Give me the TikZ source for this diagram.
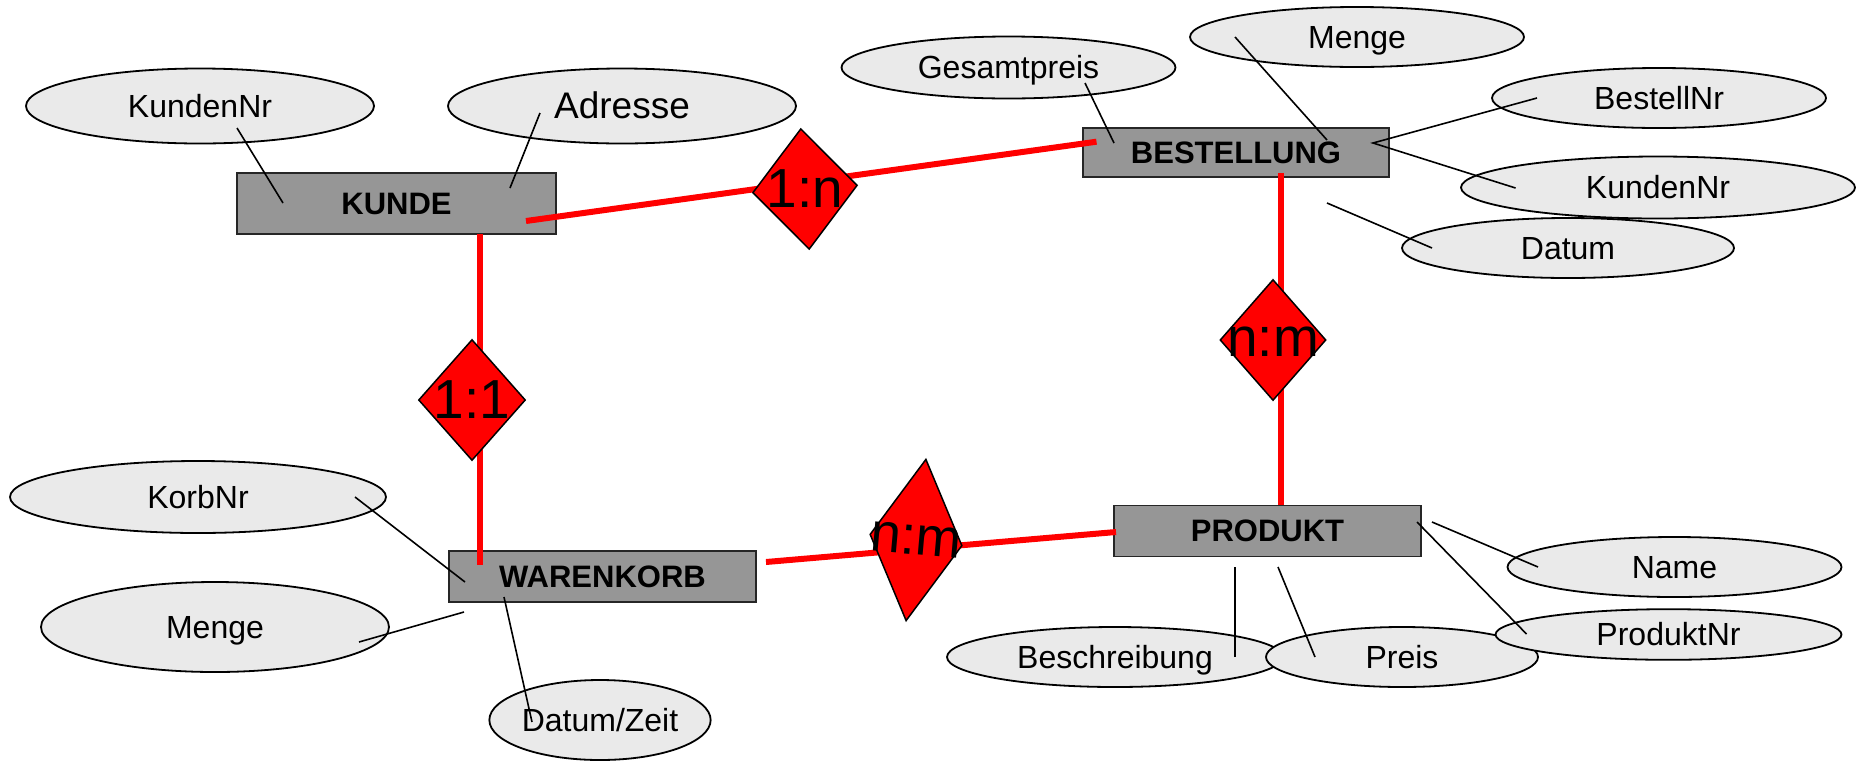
\documentclass[tikz,border=0pt]{standalone}
\usepackage{fontspec}
\setmainfont{Liberation Sans}
\usetikzlibrary{shapes.geometric}
\definecolor{attrfill}{HTML}{EAEAEA}
\definecolor{entfill}{HTML}{969696}
\definecolor{relred}{HTML}{FF0000}
\begin{document}
\begin{tikzpicture}[x=1pt,y=-1pt,
  entity/.style={rectangle, draw=black!85, line width=1.8pt, fill=entfill, inner sep=0pt,
    text height=28pt, text depth=6.6pt, font=\fontsize{31}{36}\selectfont\bfseries},
  attr/.style={ellipse, draw=black, line width=1.8pt, fill=attrfill, inner sep=0pt,
    text height=29pt, text depth=6.8pt, font=\fontsize{32}{38}\selectfont},
  rel/.style={diamond, draw=black, line width=1.5pt, fill=relred, inner sep=0pt},
  rellabel/.style={inner sep=0pt, font=\fontsize{55}{60}\selectfont},
  link/.style={draw=relred, line width=6pt},
  attrline/.style={draw=black, line width=1.6pt}
]
\useasboundingbox (0,0) rectangle (1857,761);

% attributes
\node[attr, minimum width=348pt, minimum height=75pt] (kundennr) at (200,106) {KundenNr};
\node[attr, minimum width=348pt, minimum height=75pt, font=\fontsize{37}{44}\selectfont,
      text height=33.5pt, text depth=7.8pt] (adresse) at (622,106) {Adresse};
\node[attr, minimum width=334pt, minimum height=62pt] (gesamtpreis) at (1008.5,67.5) {Gesamtpreis};
\node[attr, minimum width=334pt, minimum height=60pt] (mengeb) at (1357,37) {Menge};
\node[attr, minimum width=334pt, minimum height=60pt] (bestellnr) at (1659,98) {BestellNr};
\node[attr, minimum width=394pt, minimum height=62pt] (kundennrb) at (1658,187.5) {KundenNr};
\node[attr, minimum width=332pt, minimum height=60pt] (datum) at (1568,248) {Datum};
\node[attr, minimum width=376pt, minimum height=72pt] (korbnr) at (198,497) {KorbNr};
\node[attr, minimum width=348pt, minimum height=90pt] (mengew) at (215,627) {Menge};
\node[attr, minimum width=210pt, minimum height=80pt] (datumzeit) at (600,720) {Datum/Zeit};
\node[attr, minimum width=336pt, minimum height=60pt] (beschreibung) at (1115,657) {Beschreibung};
\node[attr, minimum width=272pt, minimum height=60pt] (preis) at (1402,657) {Preis};
\node[attr, minimum width=346pt, minimum height=44pt] (produktnr) at (1668.5,634.5) {ProduktNr};
\node[attr, minimum width=334pt, minimum height=60pt] (name) at (1674.5,567) {Name};

% entities
\node[entity, minimum width=319pt, minimum height=61pt] (kunde) at (396.5,203.5) {KUNDE};
\node[entity, minimum width=306pt, minimum height=49pt] (bestellung) at (1236,152.5) {BESTELLUNG};
\node[entity, minimum width=307pt, minimum height=51pt] (warenkorb) at (602.5,576.5) {WARENKORB};
\node[entity, minimum width=307pt, minimum height=51pt] (produkt) at (1267.5,531) {PRODUKT};

% ends of the relationship lines
\coordinate (kb1) at (526,221);
\coordinate (kb2) at (1096.5,141.7);
\coordinate (kw1) at (480,234);
\coordinate (kw2) at (480,565);
\coordinate (bp1) at (1281,173);
\coordinate (bp2) at (1281,505);
\coordinate (wp1) at (766,562);
\coordinate (wp2) at (1116,532);

\draw[link] (kb1) -- (kb2);
\draw[link] (kw1) -- (kw2);
\draw[link] (bp1) -- (bp2);
\draw[link] (wp1) -- (wp2);

% relationships
\node[rel, minimum width=105pt, minimum height=121pt, rotate=4] (rkb) at (805,189) {};
\node[rel, minimum width=107pt, minimum height=121pt] (rkw) at (472,400) {};
\node[rel, minimum width=106pt, minimum height=121pt] (rbp) at (1273,340) {};
\node[rel, minimum width=93pt, minimum height=163pt, rotate=-7] (rwp) at (916,540) {};

\node[rellabel] (lkb) at (rkb) {1:n};
\node[rellabel] (lkw) at (rkw) {1:1};
\node[rellabel] (lbp) at ([yshift=-2pt]rbp.center) {n:m};
\node[rellabel, rotate=-5] (lwp) at (rwp) {n:m};

% ends of the attribute lines
\coordinate (a1) at (237,128);    \coordinate (e1) at (283,203);
\coordinate (a2) at (540,113);    \coordinate (e2) at (510,188);
\coordinate (a3) at (1085,83);    \coordinate (e3) at (1114,143);
\coordinate (a4) at (1235,37);    \coordinate (e4) at (1327,140);
\coordinate (a5) at (1537,98);    \coordinate (e5) at (1373,143);
\coordinate (a6) at (1515.5,188);
\coordinate (a7) at (1432,248);   \coordinate (e7) at (1327,203);
\coordinate (a8) at (355,497);    \coordinate (e8) at (465,582);
\coordinate (a9) at (359,642);    \coordinate (e9) at (464,612);
\coordinate (a10) at (532,722);   \coordinate (e10) at (504,597);
\coordinate (a11) at (1235,657);  \coordinate (e11) at (1235,567);
\coordinate (a12) at (1315,657);  \coordinate (e12) at (1278,567);
\coordinate (a13) at (1538,567);  \coordinate (e13) at (1432,522);
\coordinate (a14) at (1526.5,634);\coordinate (e14) at (1417,522);

\draw[attrline] (a1) -- (e1);
\draw[attrline] (a2) -- (e2);
\draw[attrline] (a3) -- (e3);
\draw[attrline] (a4) -- (e4);
\draw[attrline] (a5) -- (e5) -- (a6);
\draw[attrline] (a7) -- (e7);
\draw[attrline] (a8) -- (e8);
\draw[attrline] (a9) -- (e9);
\draw[attrline] (a10) -- (e10);
\draw[attrline] (a11) -- (e11);
\draw[attrline] (a12) -- (e12);
\draw[attrline] (a13) -- (e13);
\draw[attrline] (a14) -- (e14);
\end{tikzpicture}
\end{document}
